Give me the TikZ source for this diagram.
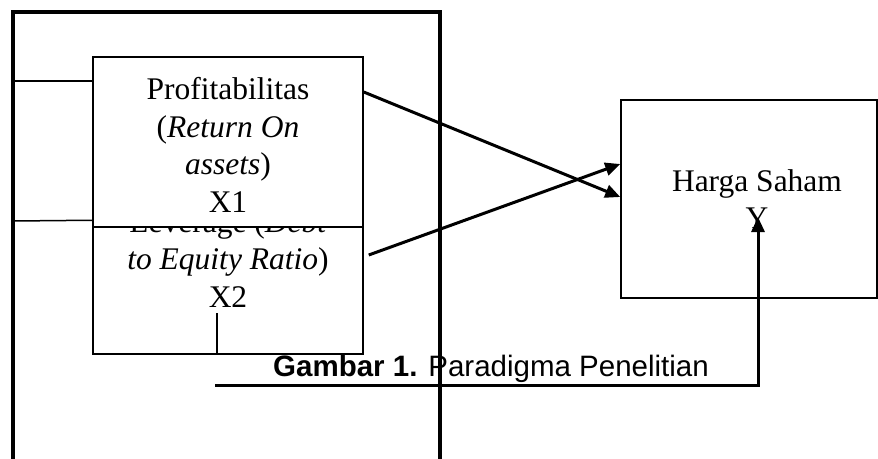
\documentclass[tikz,border=0pt]{standalone}
\usepackage{fontspec}
\setmainfont{Liberation Serif}
\newfontfamily\captionfont{Liberation Sans}
\usetikzlibrary{arrows.meta}

\begin{document}
\begin{tikzpicture}[x=1pt, y=-1pt,
	box/.style={rectangle, draw, line width=1.5pt, fill=white, inner sep=0pt},
	boxtext/.style={align=center, font=\fontsize{31.5}{37.5}\selectfont, inner sep=0pt},
	link/.style={line width=1.5pt},
	arrow/.style={line width=3pt, -{Triangle[length=15pt, width=13pt]}}]

	\useasboundingbox (0, 0) rectangle (878, 458);

	\node[font=\captionfont\fontsize{29.5}{35}\selectfont, anchor=base west, inner sep=0pt] (caption) at (273, 376) {\textbf{Gambar 1.} Paradigma Penelitian};

	% outer frame
	\coordinate (frameTL) at (13, 12);
	\coordinate (frameTR) at (440, 12);
	\draw[line width=4pt] (frameTL |- 0,470) -- (frameTL) -- (frameTR) -- (frameTR |- 0,470);

	\node[box, minimum width=270, minimum height=127] (lev) at (228, 290.5) {};
	\node[boxtext] (levtext) at (228, 259) {Leverage (\textit{Debt}\\\textit{to Equity Ratio})\\X2};
	\node[box, minimum width=270, minimum height=170] (prof) at (228, 142) {};
	\node[boxtext] (proftext) at (228, 145) {Profitabilitas\\(\textit{Return On}\\\textit{assets})\\X1};

	\node[box, minimum width=256, minimum height=198] (harga) at (749, 199) {};
	\node[boxtext] (hargatext) at (757, 199) {Harga Saham\\Y};

	\draw[link] (frameTL |- 0,81) -- ([yshift=61]prof.west);
	\draw[link] (frameTL |- 0,221) -- ([yshift=6]lev.north west);

	\draw[arrow] ([yshift=50]prof.east) -- ([yshift=2]harga.west);
	\draw[arrow] ([xshift=5, yshift=35.5]lev.east) -- ([yshift=35]harga.west);

	% path below X2 to Y
	\coordinate (tick) at (217, 313);
	\coordinate (base) at (215, 385);
	\coordinate (corner) at (758, 385);
	\coordinate (ytip) at (758, 217);
	\draw[link] (tick) -- ([yshift=2]tick |- lev.south);
	\draw[arrow] (base) -- (corner) -- (ytip);
\end{tikzpicture}
\end{document}
